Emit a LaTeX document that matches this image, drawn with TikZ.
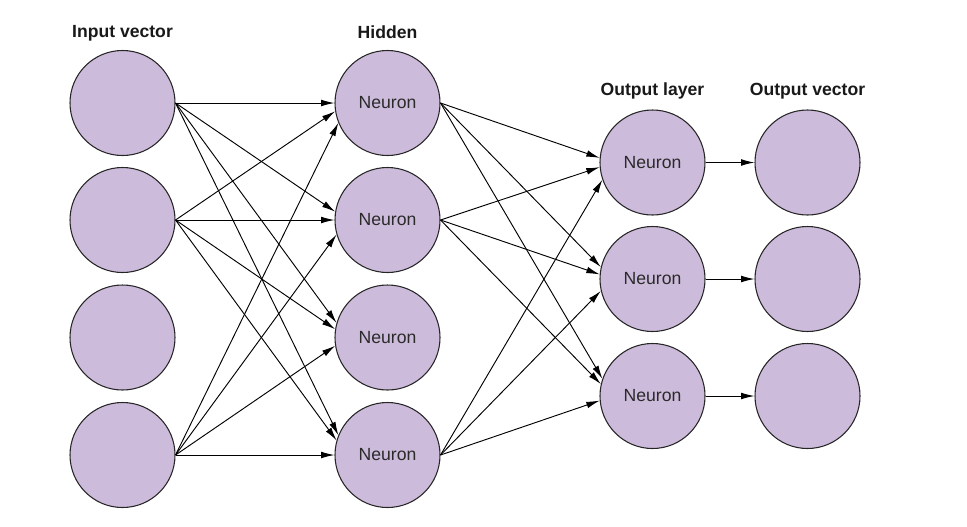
\documentclass[tikz,border=0pt]{standalone}
\usepackage{fontspec}
\setmainfont{Liberation Sans}
\usetikzlibrary{arrows.meta}

\definecolor{neuronfill}{HTML}{CDBBDB}
\definecolor{neurontext}{HTML}{2A2A2A}

\begin{document}
\begin{tikzpicture}[x=0.75pt, y=-0.75pt,
  neuron/.style={circle, draw=black!85, line width=0.8pt, fill=neuronfill, minimum size=78.75pt, inner sep=0pt, font=\fontsize{13.2}{15}\selectfont, text=neurontext},
  layerlabel/.style={font=\fontsize{13.2}{15}\selectfont\bfseries, text=black!90},
  link/.style={-{Latex[length=10pt,width=5pt]}, line width=0.7pt}]

\useasboundingbox (0,0) rectangle (967,526);

% input vector
\foreach \i/\y in {1/103, 2/220, 3/337.5, 4/455} {
\node [neuron] (in\i) at (122.5,\y) {};
}
% hidden layer
\foreach \i/\y in {1/103, 2/220, 3/337.5, 4/455} {
\node [neuron] (h\i) at (387.5,\y) {Neuron};
}
% output layer and output vector
\foreach \i/\y in {1/162.5, 2/279, 3/396} {
\node [neuron] (o\i) at (652.5,\y) {Neuron};
\node [neuron] (v\i) at (807.5,\y) {};
}

\node [layerlabel] (Lin) at (122.5,33) {Input vector};
\node [layerlabel] (Lh) at (387.5,32) {Hidden};
\node [layerlabel] (Lo) at (652.5,91) {Output layer};
\node [layerlabel] (Lv) at (807.5,91) {Output vector};

% input -> hidden (tips land near the west side)
\foreach \i/\j/\a in {1/1/180, 1/2/171, 1/3/164, 1/4/158,
                      2/1/189, 2/2/180, 2/3/171, 2/4/164,
                      4/1/202, 4/2/196, 4/3/189, 4/4/180} {
\path [link] (in\i.east) edge (h\j.\a);
}

% hidden -> output
\foreach \i/\j/\a in {1/1/175, 1/2/167, 1/3/161,
                      2/1/185, 2/2/175, 2/3/167,
                      4/1/199, 4/2/193, 4/3/185} {
\path [link] (h\i.east) edge (o\j.\a);
}

% output -> vector
\foreach \j in {1, 2, 3} {
\path [link] (o\j) edge (v\j);
}

\end{tikzpicture}
\end{document}
